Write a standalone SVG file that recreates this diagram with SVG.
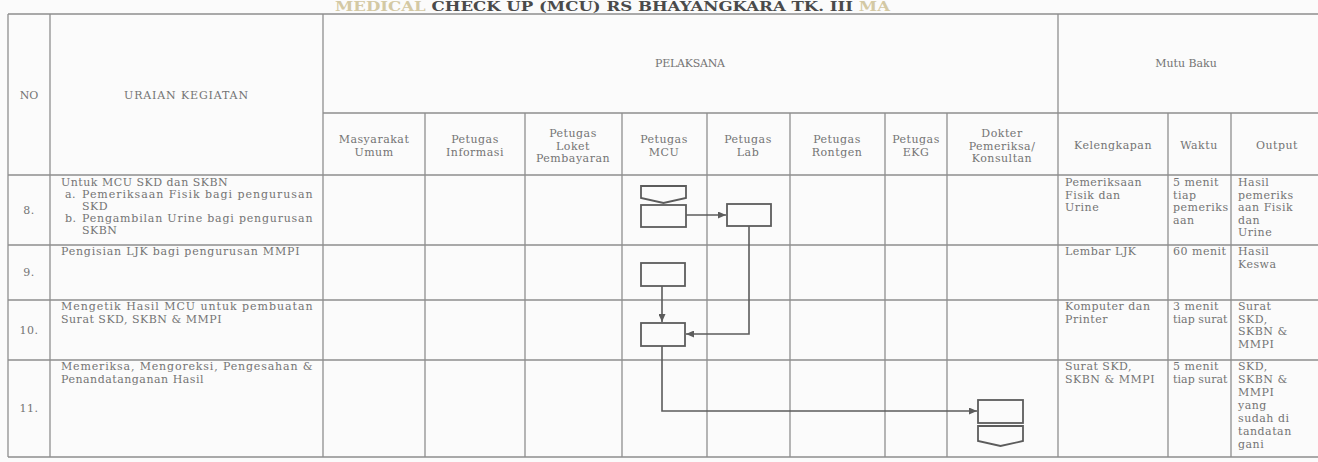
<svg xmlns="http://www.w3.org/2000/svg" width="1318" height="462" viewBox="0 0 1318 462">
<defs>
<style>
.grid line{stroke:#8e8e8e;stroke-width:1.3}
text{font-family:"DejaVu Serif","Liberation Serif",serif;font-size:11px;letter-spacing:0.5px;fill:#747474}
.c{text-anchor:middle}
.h{letter-spacing:0}
.title{font-size:13px;fill:#4a4a4a;font-weight:bold;letter-spacing:0}
.faint{fill:#d4c9a4}
.box{fill:none;stroke:#5c5c5c;stroke-width:1.8}
.con{fill:none;stroke:#5c5c5c;stroke-width:1.6}
</style>
<marker id="ah" markerUnits="userSpaceOnUse" markerWidth="8" markerHeight="7" refX="8" refY="3.5" orient="auto">
<path d="M0,0 L8,3.5 L0,7 z" fill="#5c5c5c"/>
</marker>
</defs>
<rect width="1318" height="462" fill="#fbfbfb"/>
<text class="title" x="335" y="11" textLength="555" lengthAdjust="spacingAndGlyphs"><tspan class="faint">MEDICAL </tspan>CHECK UP (MCU) RS BHAYANGKARA TK. III <tspan class="faint">MA</tspan></text>
<g class="grid">
<line x1="8" y1="14" x2="1318" y2="14"/>
<line x1="323" y1="113" x2="1318" y2="113"/>
<line x1="8" y1="175" x2="1318" y2="175"/>
<line x1="8" y1="245" x2="1318" y2="245"/>
<line x1="8" y1="300" x2="1318" y2="300"/>
<line x1="8" y1="360" x2="1318" y2="360"/>
<line x1="8" y1="457" x2="1318" y2="457"/>
<line x1="8" y1="14" x2="8" y2="457"/>
<line x1="50" y1="14" x2="50" y2="457"/>
<line x1="323" y1="14" x2="323" y2="457"/>
<line x1="1058" y1="14" x2="1058" y2="457"/>
<line x1="425" y1="113" x2="425" y2="457"/>
<line x1="525" y1="113" x2="525" y2="457"/>
<line x1="622" y1="113" x2="622" y2="457"/>
<line x1="707" y1="113" x2="707" y2="457"/>
<line x1="790" y1="113" x2="790" y2="457"/>
<line x1="885" y1="113" x2="885" y2="457"/>
<line x1="947" y1="113" x2="947" y2="457"/>
<line x1="1168" y1="113" x2="1168" y2="457"/>
<line x1="1231" y1="113" x2="1231" y2="457"/>
</g>
<g id="header">
<text class="c h" x="29" y="99">NO</text>
<text class="c h" x="186" y="99" textLength="124">URAIAN KEGIATAN</text>
<text class="c h" x="690" y="67" textLength="70">PELAKSANA</text>
<text class="c h" x="1186" y="67">Mutu Baku</text>
<text class="c" x="374" y="143">Masyarakat</text><text class="c" x="374" y="155.5">Umum</text>
<text class="c" x="475" y="143">Petugas</text><text class="c" x="475" y="155.5">Informasi</text>
<text class="c" x="573" y="137">Petugas</text><text class="c" x="573" y="149.5">Loket</text><text class="c" x="573" y="162">Pembayaran</text>
<text class="c" x="664" y="143">Petugas</text><text class="c" x="664" y="155.5">MCU</text>
<text class="c" x="748" y="143">Petugas</text><text class="c" x="748" y="155.5">Lab</text>
<text class="c" x="837" y="143">Petugas</text><text class="c" x="837" y="155.5">Rontgen</text>
<text class="c" x="916" y="143">Petugas</text><text class="c" x="916" y="155.5">EKG</text>
<text class="c" x="1002" y="137">Dokter</text><text class="c" x="1002" y="149.5">Pemeriksa/</text><text class="c" x="1002" y="162">Konsultan</text>
<text class="c" x="1113" y="149">Kelengkapan</text>
<text class="c" x="1199" y="149">Waktu</text>
<text class="c" x="1277" y="149">Output</text>
</g>
<g id="row8">
<text class="c" x="29" y="214">8.</text>
<text x="61" y="186">Untuk MCU SKD dan SKBN</text>
<text x="65" y="198">a.</text><text x="82" y="198" textLength="231" lengthAdjust="spacing">Pemeriksaan Fisik bagi pengurusan</text>
<text x="82" y="210">SKD</text>
<text x="65" y="222">b.</text><text x="82" y="222" textLength="231" lengthAdjust="spacing">Pengambilan Urine bagi pengurusan</text>
<text x="82" y="234">SKBN</text>
<text x="1065" y="186">Pemeriksaan</text><text x="1065" y="198.5">Fisik dan</text><text x="1065" y="211">Urine</text>
<text x="1173" y="186">5 menit</text><text x="1173" y="198.5">tiap</text><text x="1173" y="211">pemeriks</text><text x="1173" y="223.5">aan</text>
<text x="1238" y="186">Hasil</text><text x="1238" y="198.5">pemeriks</text><text x="1238" y="211">aan Fisik</text><text x="1238" y="223.5">dan</text><text x="1238" y="236">Urine</text>
</g>
<g id="row9">
<text class="c" x="29" y="276">9.</text>
<text x="61" y="255" textLength="239">Pengisian LJK bagi pengurusan MMPI</text>
<text x="1065" y="255">Lembar LJK</text>
<text x="1173" y="255">60 menit</text>
<text x="1238" y="255">Hasil</text><text x="1238" y="267.5">Keswa</text>
</g>
<g id="row10">
<text class="c" x="29" y="334">10.</text>
<text x="61" y="310" textLength="252" lengthAdjust="spacing">Mengetik Hasil MCU untuk pembuatan</text>
<text x="61" y="322.5">Surat SKD, SKBN &amp; MMPI</text>
<text x="1065" y="310">Komputer dan</text><text x="1065" y="322.5">Printer</text>
<text x="1173" y="310">3 menit</text><text x="1173" y="322.5" textLength="55">tiap surat</text>
<text x="1238" y="310">Surat</text><text x="1238" y="322.5">SKD,</text><text x="1238" y="335">SKBN &amp;</text><text x="1238" y="347.5">MMPI</text>
</g>
<g id="row11">
<text class="c" x="29" y="412">11.</text>
<text x="61" y="370" textLength="252" lengthAdjust="spacing">Memeriksa, Mengoreksi, Pengesahan &amp;</text>
<text x="61" y="382.5">Penandatanganan Hasil</text>
<text x="1065" y="370">Surat SKD,</text><text x="1065" y="382.5">SKBN &amp; MMPI</text>
<text x="1173" y="370">5 menit</text><text x="1173" y="382.5" textLength="55">tiap surat</text>
<text x="1238" y="370">SKD,</text><text x="1238" y="383">SKBN &amp;</text><text x="1238" y="396">MMPI</text><text x="1238" y="409">yang</text><text x="1238" y="422">sudah di</text><text x="1238" y="435">tandatan</text><text x="1238" y="448">gani</text>
</g>
<g id="n8-start"><path class="box" d="M641,186 H686 V198 L663.5,203 L641,198 Z"/></g>
<g id="n8-mcu"><rect class="box" x="641" y="205" width="45" height="22"/></g>
<g id="n8-lab"><rect class="box" x="727" y="204" width="44" height="22"/></g>
<g id="n9-mcu"><rect class="box" x="641" y="263" width="44" height="23"/></g>
<g id="n10-mcu"><rect class="box" x="641" y="323" width="44" height="23"/></g>
<g id="n11-dokter"><rect class="box" x="978" y="400" width="45" height="23"/></g>
<g id="n11-end"><path class="box" d="M978,426 H1023 V441 L1000.5,446 L978,441 Z"/></g>
<g id="connectors">
<path class="con" d="M686,215 H726" marker-end="url(#ah)"/>
<path class="con" d="M749,226 V334 H686" marker-end="url(#ah)"/>
<path class="con" d="M662,286 V322" marker-end="url(#ah)"/>
<path class="con" d="M662,346 V411 H977" marker-end="url(#ah)"/>
</g>
</svg>
